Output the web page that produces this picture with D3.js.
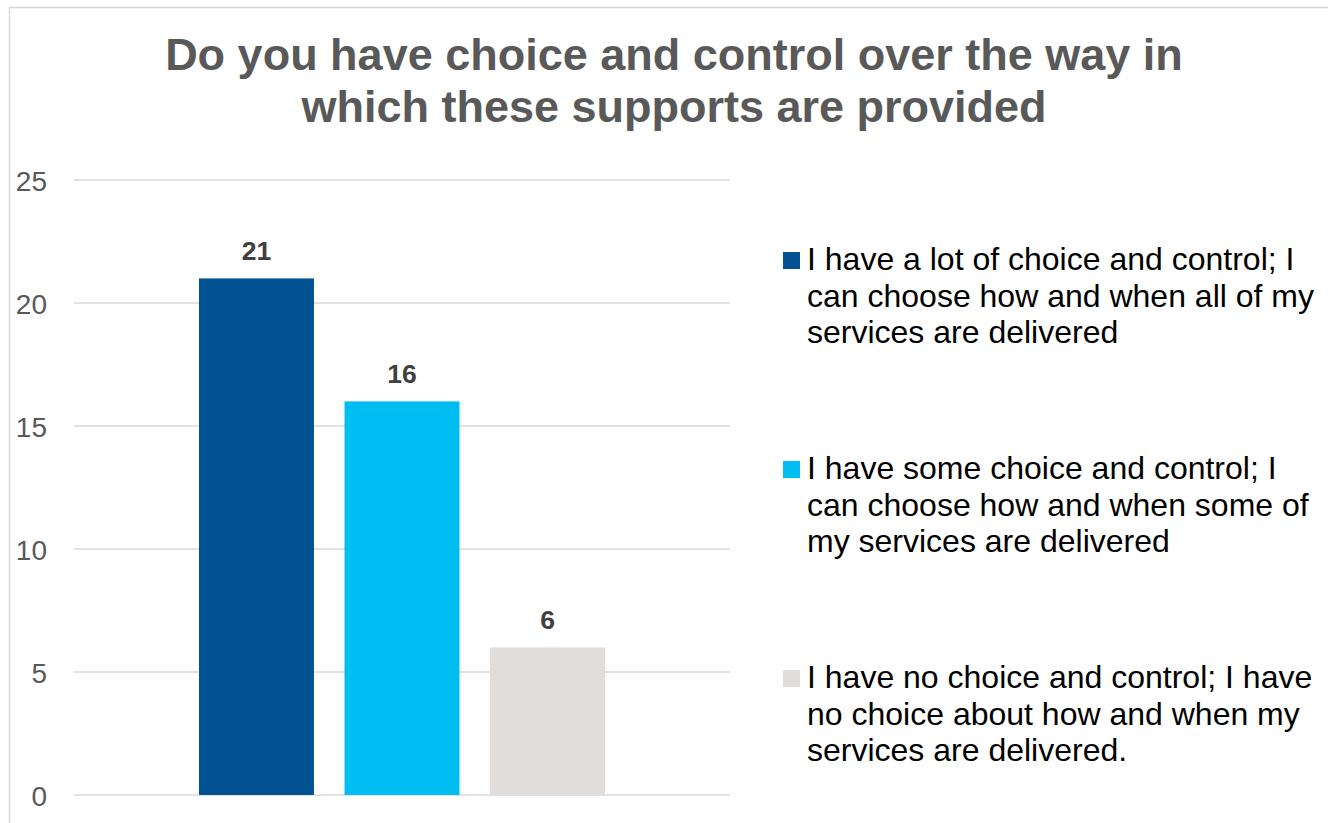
<!DOCTYPE html>
<html>
<head>
<meta charset="utf-8">
<script src="https://cdn.jsdelivr.net/npm/d3@7"></script>
<style>
  html, body { margin: 0; padding: 0; background: #fff; }
  svg { display: block; font-family: "Liberation Sans", Arial, sans-serif; }
</style>
</head>
<body>
<svg id="chart" width="1328" height="823"></svg>
<script>
const titleLines = ["Do you have choice and control over the way in", "which these supports are provided"];
const seriesKeys = ["a", "b", "c"];
const seriesValues = [21, 16, 6];
const seriesLabels = [
  ["I have a lot of choice and control; I", "can choose how and when all of my", "services are delivered"],
  ["I have some choice and control; I", "can choose how and when some of", "my services are delivered"],
  ["I have no choice and control; I have", "no choice about how and when my", "services are delivered."]
];
const seriesColors = ["#005293", "#00BEF2", "#E1DDDA"];
const yTicks = [0, 5, 10, 15, 20, 25];

const svg = d3.select("#chart");

// outer chart border
svg.append("rect")
  .attr("x", 9.5).attr("y", 7.5)
  .attr("width", 1400).attr("height", 900)
  .attr("fill", "#fff").attr("stroke", "#d9d9d9").attr("stroke-width", 1.5);

// title
svg.append("text")
  .attr("text-anchor", "middle")
  .attr("fill", "#595959")
  .attr("font-size", 45)
  .attr("font-weight", "bold")
  .selectAll("tspan").data(titleLines).join("tspan")
  .attr("x", 674).attr("y", (d, i) => 70 + i * 52)
  .text(d => d);

const plotLeft = 74, plotRight = 730, plotTop = 180, plotBottom = 795;

const y = d3.scaleLinear().domain([0, 25]).range([plotBottom, plotTop]);
const x = d3.scaleBand().domain(seriesKeys).range([plotLeft, plotRight])
  .paddingInner(0.21).paddingOuter(0.859);

// gridlines
svg.append("g").selectAll("line").data(yTicks).join("line")
  .attr("x1", plotLeft).attr("x2", plotRight)
  .attr("y1", d => y(d)).attr("y2", d => y(d))
  .attr("stroke", "#d9d9d9").attr("stroke-width", 1.5);

// y axis labels
const yAxis = d3.axisLeft(y).tickValues(yTicks).tickSize(0).tickPadding(0);
const gy = svg.append("g").attr("transform", "translate(47,0)").call(yAxis);
gy.select(".domain").remove();
gy.selectAll("text")
  .attr("font-size", 28).attr("fill", "#595959")
  .attr("font-family", "'Liberation Sans', Arial, sans-serif")
  .attr("dy", "0.36em");

// bars
svg.append("g").selectAll("rect").data(seriesKeys).join("rect")
  .attr("x", d => x(d))
  .attr("width", x.bandwidth())
  .attr("y", (d, i) => y(seriesValues[i]))
  .attr("height", (d, i) => y(0) - y(seriesValues[i]))
  .attr("fill", (d, i) => seriesColors[i]);

// data labels
svg.append("g").selectAll("text").data(seriesKeys).join("text")
  .attr("x", d => x(d) + x.bandwidth() / 2)
  .attr("y", (d, i) => y(seriesValues[i]) - 18)
  .attr("text-anchor", "middle")
  .attr("font-size", 26.5).attr("font-weight", "bold")
  .attr("fill", "#404040")
  .text((d, i) => seriesValues[i]);

// legend
const legend = svg.append("g");
const entry = legend.selectAll("g").data(seriesKeys).join("g")
  .attr("transform", (d, i) => `translate(0, ${270 + i * 209})`);
entry.append("rect")
  .attr("x", 783).attr("y", -18).attr("width", 17).attr("height", 17)
  .attr("fill", (d, i) => seriesColors[i]);
entry.append("text")
  .attr("font-size", 32).attr("fill", "#000")
  .selectAll("tspan").data((d, i) => seriesLabels[i]).join("tspan")
  .attr("x", 807).attr("y", (d, j) => j * 36.5)
  .text(d => d);
</script>
</body>
</html>
